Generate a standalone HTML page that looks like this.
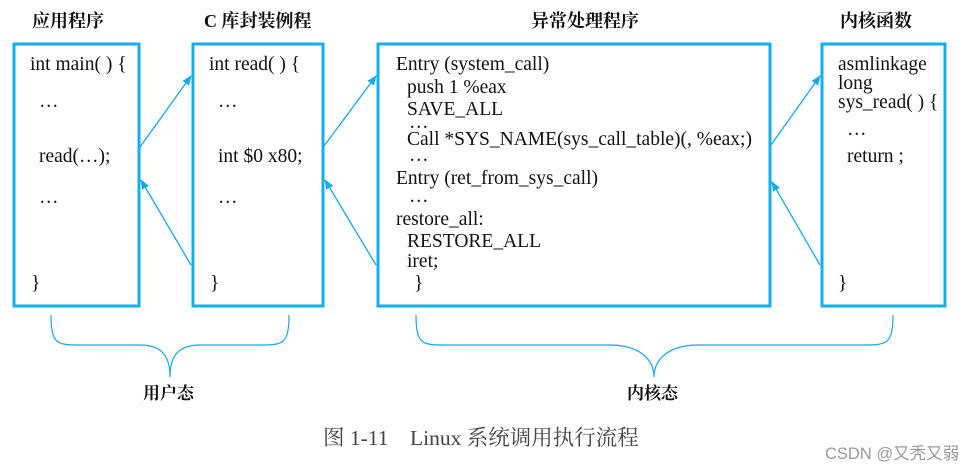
<!DOCTYPE html>
<html><head><meta charset="utf-8"><style>
html,body{margin:0;padding:0;background:#fff;}
svg{display:block;}
.t{font-family:"Liberation Serif","Noto Serif CJK SC",serif;font-size:19.5px;fill:#111;}
.h{font-family:"Liberation Serif","Noto Serif CJK SC",serif;font-size:18px;font-weight:bold;fill:#111;}
</style></head><body>
<svg width="972" height="467" viewBox="0 0 972 467" xmlns="http://www.w3.org/2000/svg">
<defs><marker id="a" markerWidth="10" markerHeight="8" refX="9" refY="4" orient="auto" markerUnits="userSpaceOnUse"><path d="M0,0 L10,4 L0,8 z" fill="#1aa8e8"/></marker></defs>
<g class="h">
<text x="32" y="27">应用程序</text>
<text x="204" y="27">C 库封装例程</text>
<text x="531" y="27">异常处理程序</text>
<text x="840" y="27">内核函数</text>
</g>
<g fill="none" stroke="#16aef0" stroke-width="3">
<rect x="14" y="44" width="125" height="262"/>
<rect x="193" y="44" width="130" height="262"/>
<rect x="378" y="44" width="392" height="262"/>
<rect x="822" y="44" width="123" height="262"/>
</g>
<g stroke="#1aa8e8" stroke-width="1.3" marker-end="url(#a)">
<line x1="140" y1="147" x2="191" y2="76"/>
<line x1="191" y1="265" x2="141" y2="180"/>
<line x1="324" y1="146" x2="376" y2="76"/>
<line x1="376" y1="265" x2="325" y2="180"/>
<line x1="771" y1="145" x2="820" y2="76"/>
<line x1="820" y1="265" x2="772" y2="182"/>
</g>
<g class="t">
<text x="30" y="70">int main( ) {</text>
<text x="39" y="107">…</text>
<text x="39" y="162">read(…);</text>
<text x="39" y="203">…</text>
<text x="31" y="289">}</text>
<text x="209" y="70">int read( ) {</text>
<text x="218" y="107">…</text>
<text x="218" y="162">int $0 x80;</text>
<text x="218" y="203">…</text>
<text x="210" y="289">}</text>
<text x="396" y="70">Entry (system_call)</text>
<text x="407" y="93">push 1 %eax</text>
<text x="407" y="115">SAVE_ALL</text>
<text x="409" y="128">…</text>
<text x="407" y="145">Call *SYS_NAME(sys_call_table)(, %eax;)</text>
<text x="409" y="161">…</text>
<text x="396" y="184">Entry (ret_from_sys_call)</text>
<text x="409" y="202">…</text>
<text x="396" y="225">restore_all:</text>
<text x="407" y="247">RESTORE_ALL</text>
<text x="407" y="267">iret;</text>
<text x="414" y="289">}</text>
<text x="838" y="70">asmlinkage</text>
<text x="838" y="89">long</text>
<text x="838" y="108">sys_read( ) {</text>
<text x="847" y="135">…</text>
<text x="847" y="162">return ;</text>
<text x="838" y="289">}</text>
</g>
<g fill="none" stroke="#1aa8e8" stroke-width="1.2">
<path d="M51,315 C51,345 58,345 80,345 L140,345 C165,345 170,360 170,377 C170,360 175,345 200,345 L260,345 C282,345 289,345 289,315"/>
<path d="M416,315 C416,345 423,345 445,345 L610,345 C640,345 654,360 654,377 C654,360 668,345 698,345 L862,345 C886,345 893,345 893,315"/>
</g>
<g class="h" style="font-size:17px">
<text x="143" y="399">用户态</text>
<text x="627" y="399">内核态</text>
</g>
<text x="323" y="445" style="font-family:'Liberation Serif','Noto Serif CJK SC',serif;font-size:21.5px;fill:#444">图 1-11　Linux 系统调用执行流程</text>
<text x="825" y="459" style="font-family:'Liberation Sans','Noto Sans CJK SC',sans-serif;font-size:16.5px;fill:#999">CSDN @又秃又弱</text>
</svg>
</body></html>
